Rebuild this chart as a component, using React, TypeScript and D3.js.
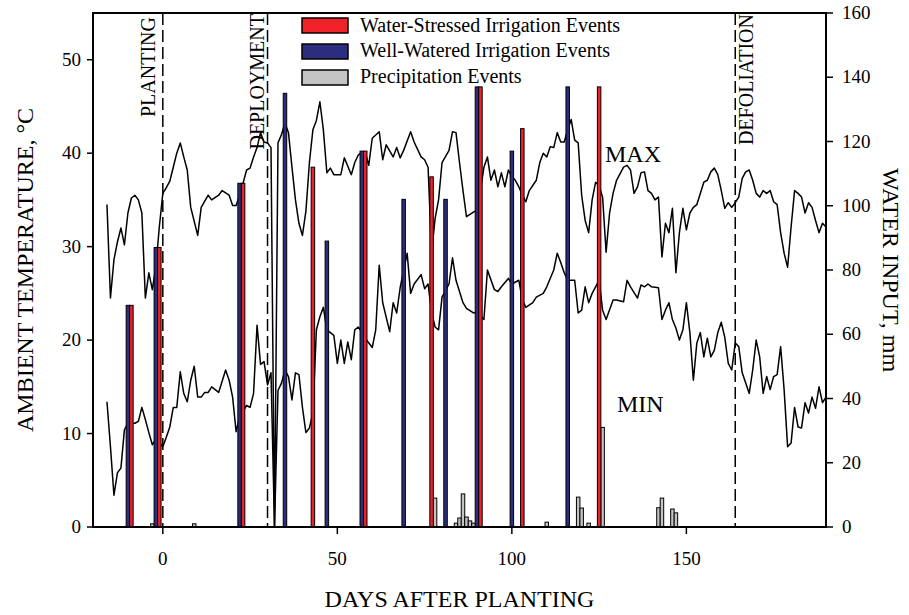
import React from "react";
import * as d3 from "d3";

// Daily ambient temperature extremes, [day after planting, °C]
const maxTemp: [number, number][] = [
  [-16, 34.5], [-15, 24.5], [-14, 28.6], [-13, 30.5], [-12, 32.0], [-11, 30.2], [-10, 33.6], [-9, 35.2],
  [-8, 35.5], [-7, 35.0], [-6, 33.6], [-5, 24.5], [-4, 27.2], [-3, 25.4], [-2, 27.8], [-1, 32.1],
  [0, 35.7], [1, 36.3], [2, 37.0], [3, 38.5], [4, 40.0], [5, 41.1], [6, 39.6], [7, 38.2], [8, 34.2],
  [10, 31.2], [11, 34.2], [13, 35.5], [14, 35.0], [16, 35.5], [17, 36.0], [19, 35.5], [20, 34.4],
  [21, 34.4], [22, 35.5], [23, 36.8], [24, 38.2], [25, 38.4], [26, 39.6], [27, 40.6], [28, 42.2],
  [29, 41.2], [30, 41.1], [31, 40.6], [32, 0], [33, 41.1], [34, 42.0], [35, 43.2], [36, 42.2],
  [37, 38.5], [38, 35.0], [39, 32.5], [40, 31.2], [41, 33.8], [42, 39.0], [43, 42.5], [44, 43.5],
  [45, 45.5], [46, 42.5], [47, 37.9], [48, 38.4], [49, 37.7], [51, 37.7], [52, 39.5], [53, 38.6],
  [54, 37.7], [55, 39.0], [56, 39.8], [57, 40.1], [58, 40.1], [59, 38.7], [60, 41.6], [62, 42.3],
  [63, 39.3], [64, 40.9], [66, 39.6], [67, 40.6], [68, 39.5], [69, 40.3], [71, 42.3], [72, 41.2],
  [74, 39.6], [75, 39.3], [76, 38.5], [77, 29.3], [78, 33.0], [79, 35.0], [80, 39.0], [82, 40.3],
  [83, 42.3], [84, 42.2], [85, 39.0], [86, 36.0], [87, 33.2], [89, 33.7], [90, 33.9], [91, 36.0],
  [92, 38.5], [93, 39.6], [94, 37.1], [95, 38.2], [96, 36.4], [97, 37.9], [98, 36.4], [99, 38.2],
  [100, 37.5], [101, 37.1], [102, 36.4], [103, 35.5], [104, 34.8], [105, 36.0], [107, 37.1],
  [108, 39.0], [109, 40.0], [110, 39.6], [111, 40.7], [112, 40.6], [113, 42.2], [114, 41.2],
  [115, 41.2], [116, 42.5], [117, 43.6], [118, 41.4], [119, 41.1], [120, 35.5], [121, 32.8],
  [122, 31.5], [123, 35.0], [124, 36.9], [125, 36.5], [126, 35.3], [127, 29.4], [128, 33.6],
  [129, 35.7], [130, 37.1], [132, 38.5], [133, 38.7], [134, 38.2], [135, 35.7], [136, 36.4],
  [137, 37.9], [138, 38.0], [139, 36.0], [140, 35.7], [141, 35.0], [142, 35.3], [143, 28.9],
  [144, 32.5], [145, 31.5], [146, 34.1], [147, 27.2], [148, 31.5], [149, 34.1], [150, 31.8],
  [151, 33.6], [152, 34.2], [153, 34.5], [155, 36.9], [156, 37.1], [157, 38.0], [158, 38.4],
  [159, 37.7], [160, 36.0], [161, 34.1], [162, 34.7], [163, 34.2], [164, 34.7], [165, 35.3],
  [166, 37.3], [167, 38.0], [168, 38.2], [169, 37.1], [170, 35.7], [171, 35.3], [172, 36.0],
  [173, 35.7], [174, 36.0], [175, 34.8], [176, 34.5], [177, 31.5], [178, 29.3], [179, 27.8],
  [180, 32.1], [181, 36.0], [182, 35.7], [183, 35.3], [184, 33.6], [185, 34.7], [186, 34.2],
  [187, 32.8], [188, 31.5], [189, 32.5], [190, 32.1],
];

const minTemp: [number, number][] = [
  [-16, 13.4], [-15, 8.6], [-14, 3.4], [-13, 5.8], [-12, 6.3], [-11, 10.4], [-10, 11.1], [-8, 11.1],
  [-7, 11.3], [-6, 12.8], [-5, 11.5], [-4, 10.1], [-3, 8.8], [-2, 9.4], [-1, 9.0], [0, 8.6],
  [1, 9.6], [2, 10.7], [3, 12.8], [4, 12.8], [5, 16.6], [6, 14.3], [7, 13.4], [8, 15.7], [9, 17.2],
  [10, 13.9], [11, 13.9], [12, 14.4], [13, 14.4], [14, 15.0], [16, 14.4], [18, 16.8], [19, 15.7],
  [20, 13.9], [21, 10.2], [22, 11.8], [24, 13.0], [25, 12.8], [26, 14.3], [27, 21.6], [28, 17.4],
  [29, 17.7], [30, 15.2], [31, 16.5], [32, 0], [33, 14.6], [34, 15.4], [35, 16.8], [36, 16.1],
  [37, 13.6], [38, 16.5], [39, 16.3], [40, 12.8], [41, 10.1], [42, 10.6], [43, 12.2], [44, 21.1],
  [45, 22.5], [46, 23.5], [47, 21.1], [49, 20.5], [50, 17.5], [51, 20.0], [52, 17.5], [53, 19.8],
  [54, 17.9], [55, 21.1], [56, 21.4], [57, 20.9], [58, 20.2], [60, 19.2], [61, 21.1], [62, 28.0],
  [63, 24.0], [65, 20.9], [66, 24.0], [67, 22.9], [68, 25.6], [70, 29.3], [71, 25.0], [72, 26.0],
  [74, 27.0], [75, 25.5], [76, 26.0], [77, 23.0], [78, 21.4], [79, 21.1], [80, 24.6], [82, 26.0],
  [83, 28.8], [84, 26.4], [86, 24.0], [87, 23.4], [89, 22.9], [90, 23.0], [92, 22.2], [93, 27.5],
  [95, 25.4], [96, 25.2], [97, 25.7], [99, 26.6], [100, 26.0], [102, 26.4], [103, 24.3],
  [104, 23.5], [106, 24.0], [107, 24.6], [109, 25.0], [110, 25.7], [112, 27.5], [113, 29.3],
  [114, 28.3], [115, 27.2], [116, 26.4], [118, 26.4], [119, 22.9], [120, 23.2], [121, 25.7],
  [122, 24.0], [123, 25.0], [124, 25.7], [125, 26.4], [126, 23.2], [127, 22.2], [129, 24.3],
  [130, 24.3], [132, 24.1], [133, 26.4], [134, 25.7], [136, 24.5], [137, 25.9], [138, 25.7],
  [139, 26.0], [140, 25.7], [142, 25.6], [143, 22.2], [144, 23.2], [145, 24.0], [146, 22.2],
  [147, 21.3], [148, 20.0], [149, 21.1], [150, 24.0], [151, 20.8], [152, 15.7], [153, 19.7],
  [154, 20.8], [155, 18.2], [156, 20.2], [157, 18.2], [158, 18.9], [159, 20.8], [160, 21.9],
  [161, 20.3], [162, 17.5], [163, 16.8], [164, 19.7], [165, 19.3], [166, 16.5], [168, 14.3],
  [169, 16.8], [170, 20.0], [171, 18.2], [172, 14.3], [173, 16.1], [174, 14.7], [175, 16.1],
  [176, 16.3], [177, 19.3], [178, 14.7], [179, 8.6], [180, 9.0], [181, 12.8], [182, 10.7],
  [183, 10.6], [184, 13.3], [185, 12.2], [186, 13.9], [187, 12.7], [188, 15.0], [189, 13.3],
  [190, 13.9],
];

// Water inputs, [day after planting, mm]
const stressedIrrigation: [number, number][] = [
  [-9, 69], [-1, 87], [23, 107], [43, 112], [58, 117], [77, 109], [91, 137], [103, 124], [125, 137],
];
const wellWateredIrrigation: [number, number][] = [
  [-10, 69], [-2, 87], [22, 107], [35, 135], [47, 89], [57, 117], [69, 102], [81, 102], [90, 137],
  [100, 117], [116, 137],
];
const precipitation: [number, number][] = [
  [-3, 1.0], [9, 1.0], [78, 9.0], [84, 1.2], [85, 2.8], [86, 10.3], [87, 3.1], [88, 1.9], [89, 1.2],
  [110, 1.5], [119, 9.3], [120, 5.9], [122, 1.2], [126, 31], [142, 6.0], [143, 9.0], [146, 5.6],
  [147, 4.4],
];

// Crop stage markers
const stageDays = [0, 30, 164];
const stageNames = ["PLANTING", "DEPLOYMENT", "DEFOLIATION"];

const dayTicks = [0, 50, 100, 150];
const tempTicks = [0, 10, 20, 30, 40, 50];
const waterTicks = [0, 20, 40, 60, 80, 100, 120, 140, 160];

const legendNames = [
  "Water-Stressed Irrigation Events",
  "Well-Watered Irrigation Events",
  "Precipitation Events",
];

const W = 909;
const H = 615;
const FONT = "'Liberation Serif', 'Times New Roman', serif";
const RED = "#ee2228";
const NAVY = "#2b2e7e";
const GRAY = "#c3c3c3";

export default function App() {
  const left = 93, right = 826, top = 13, bottom = 527;
  const x = d3.scaleLinear().domain([-20, 190]).range([left, right]);
  const yT = d3.scaleLinear().domain([0, 55]).range([bottom, top]);
  const yW = d3.scaleLinear().domain([0, 160]).range([bottom, top]);
  const bw = x(1) - x(0);

  const line = d3
    .line<[number, number]>()
    .x((d) => x(d[0]))
    .y((d) => yT(d[1]))
    .curve(d3.curveLinear);

  const bars = (data: [number, number][], fill: string, key: string) =>
    data.map(([d, v], i) => (
      <rect
        key={key + i}
        x={x(d) - bw / 2}
        y={yW(v)}
        width={bw}
        height={yW(0) - yW(v)}
        fill={fill}
        stroke="#000"
        strokeWidth={1}
      />
    ));

  // label anchor offsets (px from the marker line) for each stage label
  const stageLabelDx = [-8, -4, 18];
  const stageLabelTop = [17, 14, 14];

  const legendFills = [RED, NAVY, GRAY];
  const legendRectY = [18, 44, 70];
  const legendTextY = [32, 57, 83];

  return (
    <div style={{ position: "absolute", left: 0, top: 0 }}>
      <svg width={W} height={H} style={{ display: "block", background: "#fff" }} fontFamily={FONT}>
        <defs>
          <clipPath id="plot">
            <rect x={left} y={top} width={right - left} height={bottom - top} />
          </clipPath>
        </defs>

        {/* temperature traces */}
        <g clipPath="url(#plot)" fill="none" stroke="#000" strokeWidth={1.5} strokeLinejoin="round">
          <path d={line(maxTemp) || ""} />
          <path d={line(minTemp) || ""} />
        </g>

        {/* water input bars */}
        <g clipPath="url(#plot)">
          {bars(precipitation, GRAY, "p")}
          {bars(wellWateredIrrigation, NAVY, "w")}
          {bars(stressedIrrigation, RED, "s")}
        </g>

        {/* stage markers */}
        {stageDays.map((d, i) => (
          <g key={"st" + i}>
            <line
              x1={x(d)}
              x2={x(d)}
              y1={top}
              y2={bottom}
              stroke="#000"
              strokeWidth={1.5}
              strokeDasharray="12,5"
            />
            <text
              transform={`translate(${x(d) + stageLabelDx[i]},${stageLabelTop[i]}) rotate(-90)`}
              textAnchor="end"
              fontSize={20}
              fill="#000"
            >
              {stageNames[i]}
            </text>
          </g>
        ))}

        <text x={605} y={162} fontSize={24}>MAX</text>
        <text x={617} y={412} fontSize={24}>MIN</text>

        {/* legend */}
        {legendNames.map((n, i) => (
          <g key={"lg" + i}>
            <rect x={302} y={legendRectY[i]} width={46} height={15} fill={legendFills[i]} stroke="#000" strokeWidth={1.5} />
            <text x={360} y={legendTextY[i]} fontSize={20}>{n}</text>
          </g>
        ))}

        {/* frame */}
        <rect x={left} y={top} width={right - left} height={bottom - top} fill="none" stroke="#000" strokeWidth={2} />

        {/* left axis */}
        {tempTicks.map((t) => (
          <g key={"lt" + t}>
            <line x1={left - 6} x2={left} y1={yT(t)} y2={yT(t)} stroke="#000" strokeWidth={1.5} />
            <text x={left - 12} y={yT(t) + 6} textAnchor="end" fontSize={19}>{t}</text>
          </g>
        ))}
        {/* right axis */}
        {waterTicks.map((t) => (
          <g key={"rt" + t}>
            <line x1={right} x2={right + 7} y1={yW(t)} y2={yW(t)} stroke="#000" strokeWidth={1.5} />
            <text x={right + 16} y={yW(t) + 6} textAnchor="start" fontSize={19}>{t}</text>
          </g>
        ))}
        {/* bottom axis */}
        {dayTicks.map((t) => (
          <g key={"bt" + t}>
            <line x1={x(t)} x2={x(t)} y1={bottom} y2={bottom + 7} stroke="#000" strokeWidth={1.5} />
            <text x={x(t)} y={bottom + 38} textAnchor="middle" fontSize={19}>{t}</text>
          </g>
        ))}

        <text x={(left + right) / 2} y={607} textAnchor="middle" fontSize={24}>DAYS AFTER PLANTING</text>
        <text transform={`translate(33,${(top + bottom) / 2}) rotate(-90)`} textAnchor="middle" fontSize={24}>
          AMBIENT TEMPERATURE, °C
        </text>
        <text transform={`translate(883,${(top + bottom) / 2}) rotate(90)`} textAnchor="middle" fontSize={24}>
          WATER INPUT, mm
        </text>
      </svg>
    </div>
  );
}
